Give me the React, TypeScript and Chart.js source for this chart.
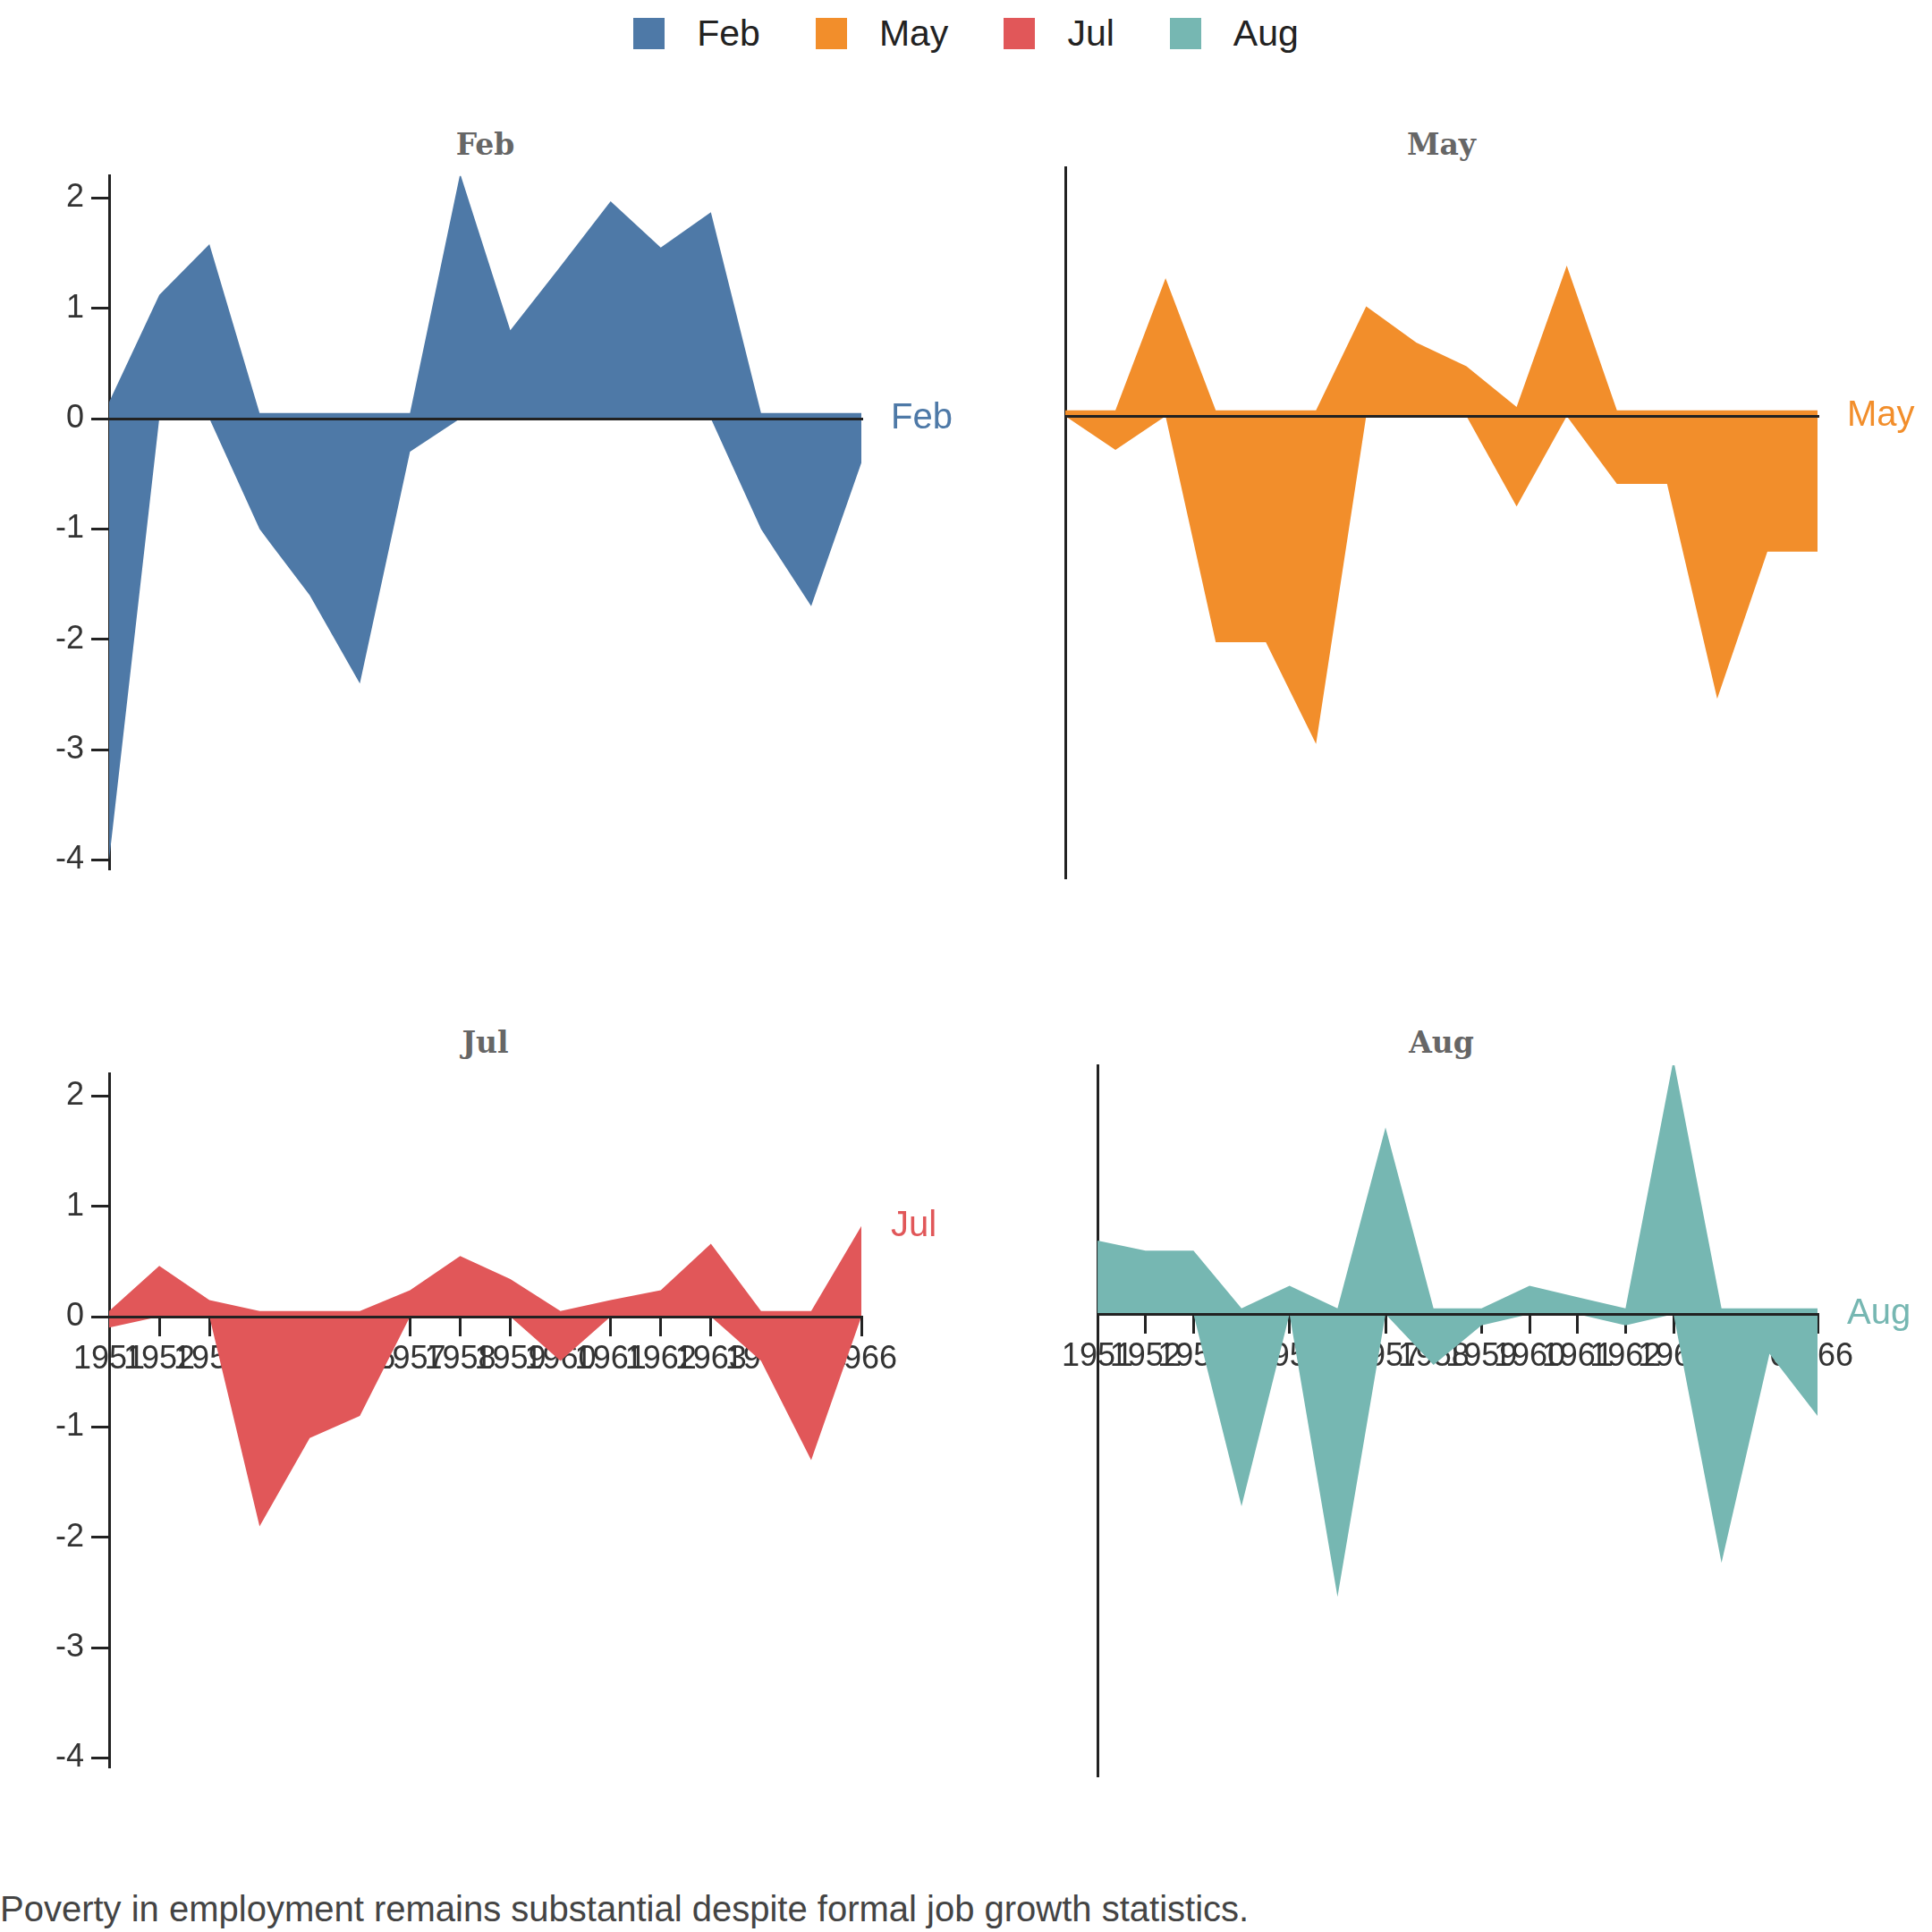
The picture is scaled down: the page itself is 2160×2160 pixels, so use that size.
import React, { useEffect, useRef } from "react";
import { Chart, registerables } from "chart.js";
Chart.register(...registerables);

const years = [1951,1952,1953,1954,1955,1956,1957,1958,1959,1960,1961,1962,1963,1964,1965,1966];
const months = ["Feb", "May", "Jul", "Aug"];
const colors = ["#4e79a7", "#f28e2b", "#e15759", "#76b7b2"];
const febPos = [0.15,1.12,1.58,0.05,0.05,0.05,0.05,2.22,0.8,1.38,1.97,1.55,1.87,0.05,0.05,0.05];
const febNeg = [-4,0,0,-1,-1.6,-2.4,-0.3,0,0,0,0,0,0,-1,-1.7,-0.4];
const mayPos = [0.05,0.05,1.22,0.05,0.05,0.05,0.97,0.65,0.44,0.08,1.33,0.05,0.05,0.05,0.05,0.05];
const mayNeg = [0,-0.3,0,-2,-2,-2.9,0,0,0,-0.8,0,-0.6,-0.6,-2.5,-1.2,-1.2];
const julPos = [0.05,0.46,0.15,0.05,0.05,0.05,0.24,0.55,0.34,0.05,0.15,0.24,0.66,0.05,0.05,0.82];
const julNeg = [-0.1,0,0,-1.9,-1.1,-0.9,0,0,0,-0.4,0,0,0,-0.4,-1.3,0];
const augPos = [0.65,0.56,0.56,0.05,0.25,0.05,1.65,0.05,0.05,0.25,0.15,0.05,2.25,0.05,0.05,0.05];
const augNeg = [0,0,0,-1.7,0,-2.5,0,-0.45,-0.1,0,0,-0.1,0,-2.2,-0.35,-0.9];
const posData = [febPos, mayPos, julPos, augPos];
const negData = [febNeg, mayNeg, julNeg, augNeg];
const yTicks = [-4, -3, -2, -1, 0, 1, 2];

const FONT = "Arial, 'Liberation Sans', sans-serif";

function Panel({ idx }: { idx: number }) {
  const ref = useRef<HTMLCanvasElement>(null);
  const col = idx % 2, row = Math.floor(idx / 2);
  const yW = col === 0 ? 122 : 10;
  const canvasLeft = col === 0 ? 0 : 1181;
  const canvasW = yW + 841 + (col === 0 ? 150 : 128);
  const plotTop = row === 0 ? 187 : 1191;
  const canvasTop = plotTop - 20;
  const canvasH = 834;
  useEffect(() => {
    const color = colors[idx];
    const mk = (arr: number[]) => ({
      data: years.map((y, i) => ({ x: y, y: arr[i] })),
      backgroundColor: color,
      borderWidth: 0,
      pointRadius: 0,
      fill: "origin",
      tension: 0,
    });
    const pos = posData[idx];
    const endLabel = {
      id: "endLabel",
      afterDraw(c: any) {
        const ctx = c.ctx;
        const ys = c.scales.y;
        const v = pos[pos.length - 1];
        const yv = v <= 0.05 ? 0 : v;
        ctx.save();
        ctx.fillStyle = color;
        ctx.font = `40px ${FONT}`;
        ctx.textBaseline = "middle";
        ctx.fillText(months[idx], c.chartArea.right + 33, ys.getPixelForValue(yv));
        ctx.restore();
      },
    };
    const chart = new Chart(ref.current!, {
      type: "line",
      data: { datasets: [mk(pos), mk(negData[idx])] as any },
      options: {
        animation: false,
        responsive: false,
        devicePixelRatio: 1,
        layout: { padding: { top: 20, bottom: 20, right: col === 0 ? 150 : 128, left: 0 } },
        plugins: { legend: { display: false }, tooltip: { enabled: false } },
        scales: {
          x: {
            type: "linear",
            min: 1951,
            max: 1966,
            position: { y: 0 } as any,
            afterFit: (s: any) => { s.height = 0; },
            border: { display: true, color: "#222", width: 3, z: 1 },
            grid: { display: row === 1, drawOnChartArea: false, tickLength: 20, color: "#222", lineWidth: 3 },
            ticks: {
              display: row === 1,
              stepSize: 1,
              autoSkip: false,
              maxRotation: 0,
              padding: 6,
              color: "#333",
              font: { size: 36, family: FONT },
              callback: (v: any) => String(v),
            },
          },
          y: {
            min: -4.08,
            max: 2.2,
            afterFit: (s: any) => { s.width = yW; },
            afterBuildTicks: (s: any) => { s.ticks = yTicks.map((v) => ({ value: v })); },
            border: { display: true, color: "#222", width: 3 },
            grid: { display: col === 0, drawOnChartArea: false, tickLength: 20, color: "#222", lineWidth: 3 },
            ticks: {
              display: col === 0,
              padding: 8,
              color: "#333",
              font: { size: 36, family: FONT },
            },
          },
        },
      } as any,
      plugins: [endLabel],
    });
    return () => chart.destroy();
  }, []);
  return (
    <>
      <div style={{ position: "absolute", left: canvasLeft + yW, width: 841, top: plotTop - 45, textAlign: "center",
        fontFamily: "'DejaVu Serif', 'Liberation Serif', serif", fontWeight: "bold", fontSize: 33, color: "#666" }}>
        {months[idx]}
      </div>
      <canvas ref={ref} width={canvasW} height={canvasH}
        style={{ position: "absolute", left: canvasLeft, top: canvasTop, width: canvasW, height: canvasH }} />
    </>
  );
}

export default function App() {
  useEffect(() => { document.body.style.margin = "0"; }, []);
  return (
    <div style={{ position: "relative", width: 2160, height: 2160, background: "#fff", overflow: "hidden" }}>
      <div style={{ position: "absolute", top: 14, left: 0, width: 2160, display: "flex", justifyContent: "center",
        gap: 0, fontFamily: FONT, fontSize: 41, color: "#222" }}>
        {months.map((m, i) => (
          <div key={m} style={{ display: "flex", alignItems: "center", marginRight: i < 3 ? 62 : 0 }}>
            <span style={{ display: "inline-block", width: 35, height: 35, background: colors[i], marginRight: 36 }} />
            <span>{m}</span>
          </div>
        ))}
      </div>
      {[0, 1, 2, 3].map((i) => <Panel key={i} idx={i} />)}
      <div style={{ position: "absolute", left: 0, top: 2112, fontFamily: FONT, fontSize: 40, color: "#444" }}>
        Poverty in employment remains substantial despite formal job growth statistics.
      </div>
    </div>
  );
}
